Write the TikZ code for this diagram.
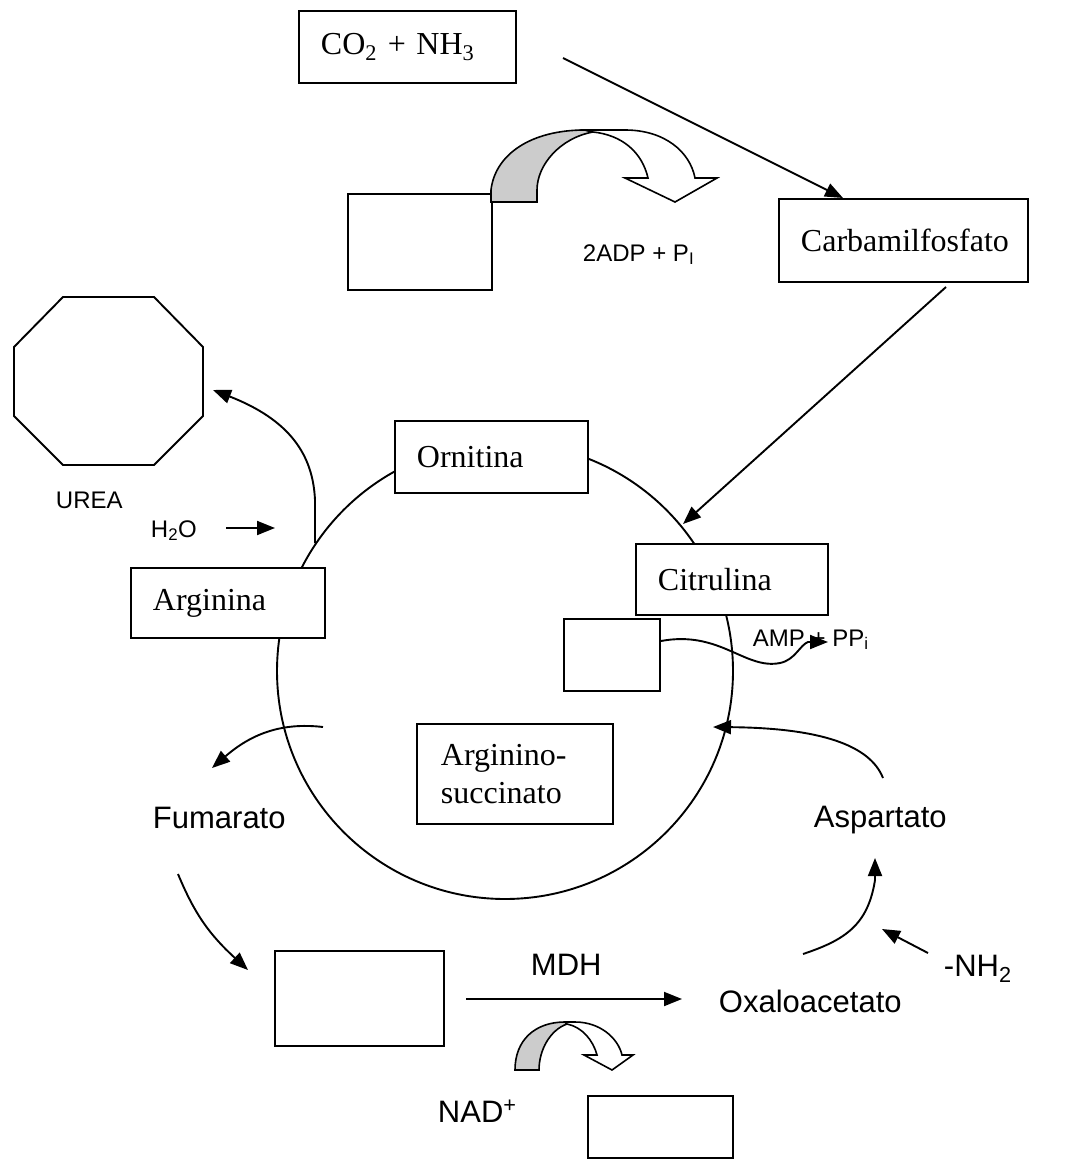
\documentclass[tikz,border=0pt]{standalone}
\usepackage{fontspec}
\setmainfont{Liberation Serif}
\setsansfont{Liberation Sans}
\usetikzlibrary{arrows.meta}

\begin{document}
\begin{tikzpicture}[x=1pt,y=-1pt,line width=1.9pt,
  arr/.style={-{Triangle[length=18pt,width=14pt]}},
  molbox/.style={draw,fill=white,anchor=north west,align=left,inner xsep=22pt,inner ysep=0pt,font=\fontsize{32}{38}\selectfont},
  emptybox/.style={draw,fill=white,anchor=north west,inner sep=0pt},
  bigtxt/.style={anchor=base west,inner sep=0pt,font=\sffamily\fontsize{31}{36}\selectfont},
  smalltxt/.style={anchor=base west,inner sep=0pt,font=\sffamily\fontsize{24}{28}\selectfont},
  backside/.style={draw,fill=black!20,line width=1.6pt},
  frontside/.style={draw,fill=white,line width=1.6pt}]
\useasboundingbox (0,0) rectangle (1068,1164);

% cycle
\draw (505,671) circle [radius=228pt];

% boxes
\node[molbox,text width=173pt,minimum height=72pt] (co2) at (298,10) {CO\textsubscript{2} + NH\textsubscript{3}};
\node[molbox,text width=205pt,minimum height=83pt] (carb) at (778,198) {Carbamilfosfato};
\node[molbox,text width=149pt,minimum height=72pt] (orn) at (394,420) {Ornitina};
\node[molbox,text width=148pt,minimum height=71pt] (citr) at (635,543) {Citrulina};
\node[molbox,text width=150pt,minimum height=70pt] (arg) at (130,567) {Arginina};
\node[molbox,text width=148pt,minimum height=100pt,inner xsep=24pt] (argsuc) at (416,723) {Arginino-\\succinato};
\node[emptybox,minimum width=144pt,minimum height=96pt] (atpbox) at (347,193) {};
\node[emptybox,minimum width=96pt,minimum height=72pt] (ampbox) at (563,618) {};
\node[emptybox,minimum width=169pt,minimum height=95pt] (malbox) at (274,950) {};
\node[emptybox,minimum width=145pt,minimum height=62pt] (nadhbox) at (587,1095) {};

% urea
\draw (63,297) -- (154,297) -- (203,347) -- (203,416) -- (154,465) -- (63,465) -- (14,416) -- (14,347) -- cycle;
\coordinate (urea) at (213,390);

% labels
\node[smalltxt] (ureatxt) at (55,508) {UREA};
\node[smalltxt] (h2o) at (150,537) {H\textsubscript{2}O};
\node[smalltxt] (adp) at (582,261) {2ADP + P\textsubscript{I}};
\node[smalltxt] (amp) at (752,646) {AMP + PP\textsubscript{i}};
\node[bigtxt] (fum) at (152,828) {Fumarato};
\node[bigtxt] (asp) at (813,827) {Aspartato};
\node[bigtxt] (oxal) at (718,1012) {Oxaloacetato};
\node[bigtxt] (mdh) at (530,975) {MDH};
\node[bigtxt] (nad) at (437,1122) {NAD\textsuperscript{+}};
\node[bigtxt] (nh2) at (943,976) {-NH\textsubscript{2}};

% free ends
\coordinate (c1) at (563,58);
\coordinate (c2) at (843,198);
\coordinate (c3) at (946,287);
\coordinate (c4) at (683,524);
\coordinate (c5) at (315,543);
\coordinate (c6) at (226,528);
\coordinate (c7) at (275,528);
\coordinate (c8) at (323,727);
\coordinate (c9) at (212,768);
\coordinate (c10) at (178,874);
\coordinate (c11) at (248,970);
\coordinate (c12) at (466,999);
\coordinate (c13) at (682,999);
\coordinate (c14) at (803,954);
\coordinate (c15) at (875,858);
\coordinate (c16) at (928,953);
\coordinate (c17) at (882,929);
\coordinate (c18) at (883,778);
\coordinate (c19) at (713,727);
\coordinate (c20) at (828,642);

% arrows
\draw[arr] (c1) -- (c2);
\draw[arr] (c3) -- (c4);
\draw[arr] (c5) -- (315,500) .. controls (313,455) and (290,420) .. (urea);
\draw[arr] (c6) -- (c7);
\draw[arr] (c8) .. controls (280,722) and (250,735) .. (c9);
\draw[arr] (c10) .. controls (195,915) and (210,935) .. (c11);
\draw[arr] (c12) -- (c13);
\draw[arr] (c14) .. controls (845,940) and (868,925) .. (875,880) -- (c15);
\draw[arr] (c16) -- (c17);
\draw[arr] (c18) .. controls (870,745) and (820,728) .. (c19);
\draw[arr] (ampbox.east |- 0,641) .. controls (720,630) and (745,670) .. (780,663) .. controls (795,660) and (800,645) .. (808,642) -- (c20);

% turning arrows
\draw[backside] (491,202) -- (491,190) .. controls (495,155) and (530,130) .. (585,130) -- (593,132) .. controls (560,138) and (537,165) .. (537,190) -- (537,202) -- cycle;
\draw[frontside] (585,130) -- (625,130) .. controls (665,130) and (690,152) .. (695,178) -- (717,178) -- (675,202) -- (625,178) -- (648,178) .. controls (642,152) and (622,135) .. (593,132) -- cycle;
\draw[backside] (515,1070) .. controls (515,1040) and (535,1022) .. (565,1022) -- (567,1024) .. controls (550,1030) and (539,1050) .. (539,1070) -- cycle;
\draw[frontside] (565,1022) -- (575,1022) .. controls (600,1022) and (618,1038) .. (622,1055) -- (633,1055) -- (612,1070) -- (584,1055) -- (597,1055) .. controls (593,1040) and (582,1027) .. (567,1024) -- cycle;
\end{tikzpicture}
\end{document}
